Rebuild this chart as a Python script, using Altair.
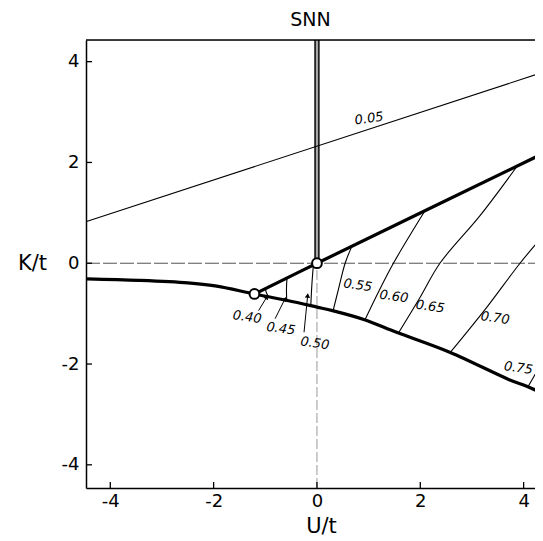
import math
import altair as alt
import pandas as pd

# ---------------- data ----------------
lower_U = [-4.46, -3.45, -2.5, -1.97, -1.21, -0.57, 0.0, 0.30, 0.92, 1.54, 2.58, 3.72, 4.06, 4.38]
lower_K = [-0.31, -0.34, -0.39, -0.45, -0.61, -0.74, -0.87, -0.94, -1.12, -1.37, -1.77, -2.31, -2.44, -2.59]

upper_U = [-1.21, 0.0, 4.38]
upper_K = [-0.61, 0.0, 2.18]

line05_U = [-4.46, 4.38]
line05_K = [0.83, 3.79]

c40_U, c40_K = [-1.00, -0.98, -0.94], [-0.50, -0.58, -0.66]
c45_U, c45_K = [-0.58, -0.59, -0.585], [-0.29, -0.50, -0.74]
c50_U, c50_K = [-0.07, -0.10, -0.12], [-0.04, -0.45, -0.86]
c55_U, c55_K = [0.675, 0.545, 0.42, 0.31], [0.335, 0.0, -0.50, -0.95]
c60_U, c60_K = [2.09, 1.48, 1.20, 0.93], [1.04, 0.0, -0.55, -1.12]
c65_U, c65_K = [3.87, 3.16, 2.38, 2.00, 1.58], [1.92, 0.95, 0.0, -0.67, -1.38]
c70_U, c70_K = [4.38, 3.93, 3.29, 2.58], [0.55, 0.0, -0.87, -1.77]
c75_U, c75_K = [4.38, 4.09], [-1.93, -2.44]

label_text = ["0.05", "0.40", "0.45", "0.50", "0.55", "0.60", "0.65", "0.70", "0.75"]
label_U = [1.01, -1.35, -0.70, -0.04, 0.79, 1.49, 2.19, 3.45, 3.90]
label_K = [2.87, -1.07, -1.30, -1.59, -0.44, -0.66, -0.86, -1.09, -2.08]

arrow_from_U = [-1.13, -0.81, -0.25]
arrow_from_K = [-0.94, -1.10, -1.37]
arrow_to_U = [-0.97, -0.62, -0.18]
arrow_to_K = [-0.67, -0.71, -0.64]

crit_U = [-1.21, 0.0]
crit_K = [-0.61, 0.0]

stripe_U = [0.0, 0.0]
stripe_K = [0.0, 4.43]

tick_vals = [-4, -2, 0, 2, 4]

U_DOMAIN = [-4.47, 4.22]
K_DOMAIN = [-4.46, 4.43]
W, H = 449, 448
FONT = "DejaVu Sans"

# ---------------- tables ----------------
def path(name, us, ks):
    return pd.DataFrame({"U": us, "K": ks, "s": name, "i": list(range(len(us)))})

thick_df = pd.concat([path("lower", lower_U, lower_K), path("upper", upper_U, upper_K)])
thin_df = pd.concat([
    path("0.05", line05_U, line05_K),
    path("0.40", c40_U, c40_K), path("0.45", c45_U, c45_K),
    path("0.50", c50_U, c50_K), path("0.55", c55_U, c55_K),
    path("0.60", c60_U, c60_K), path("0.65", c65_U, c65_K),
    path("0.70", c70_U, c70_K), path("0.75", c75_U, c75_K),
])
labels_df = pd.DataFrame({"U": label_U, "K": label_K, "t": label_text})
labels_df["ang"] = [352] + [8] * (len(label_text) - 1)

arrow_df = pd.concat([
    pd.DataFrame({"U": [fu, tu], "K": [fk, tk], "s": str(n), "i": [0, 1]})
    for n, (fu, fk, tu, tk) in enumerate(zip(arrow_from_U, arrow_from_K, arrow_to_U, arrow_to_K))
])
px_u, px_k = W / (U_DOMAIN[1] - U_DOMAIN[0]), H / (K_DOMAIN[1] - K_DOMAIN[0])
heads = []
for fu, fk, tu, tk in zip(arrow_from_U, arrow_from_K, arrow_to_U, arrow_to_K):
    dx = (tu - fu) * px_u
    dy = (tk - fk) * px_k
    heads.append(math.degrees(math.atan2(dx, dy)) % 360)
head_df = pd.DataFrame({"U": arrow_to_U, "K": arrow_to_K, "ang": heads})

crit_df = pd.DataFrame({"U": crit_U, "K": crit_K})
stripe_df = pd.DataFrame({"U": stripe_U, "K": stripe_K, "i": [0, 1]})
hline_df = pd.DataFrame({"U": U_DOMAIN, "K": [0, 0], "i": [0, 1]})
vline_df = pd.DataFrame({"U": [0, 0], "K": [K_DOMAIN[0], 0], "i": [0, 1]})
xt_df = pd.DataFrame({"U": tick_vals})
yt_df = pd.DataFrame({"K": tick_vals})
frame_df = pd.DataFrame({"z": [0]})

# ---------------- encodings ----------------
LBL = "datum.value < 0 ? '-' + abs(datum.value) : '' + datum.value"
xs = alt.Scale(domain=U_DOMAIN, nice=False, zero=False)
ys = alt.Scale(domain=K_DOMAIN, nice=False, zero=False)
X = alt.X("U:Q", scale=xs, title="U/t",
          axis=alt.Axis(values=tick_vals, grid=False, ticks=False, tickSize=0, labelExpr=LBL,
                        labelPadding=4, labelFontSize=18, labelFont=FONT, labelColor="black",
                        domainColor="black", domainWidth=1.5,
                        titleFontSize=21, titleFont=FONT, titleFontWeight="normal",
                        titleColor="black", titleX=235, titleY=38, titleBaseline="middle",
                        titleAlign="center"))
Y = alt.Y("K:Q", scale=ys, title="K/t",
          axis=alt.Axis(values=tick_vals, grid=False, ticks=False, tickSize=0, labelExpr=LBL,
                        labelPadding=7, labelFontSize=18, labelFont=FONT, labelColor="black",
                        labelBaseline="middle",
                        domainColor="black", domainWidth=1.5,
                        titleFontSize=21, titleFont=FONT, titleFontWeight="normal",
                        titleColor="black", titleAngle=0, titleX=-54, titleY=223,
                        titleAlign="center", titleBaseline="middle"))

SMOOTH = "catmull-rom"
hline = alt.Chart(hline_df).mark_line(color="#555", strokeWidth=1, strokeDash=[14, 3]).encode(
    x=X, y=Y, order="i:O")
vline = alt.Chart(vline_df).mark_line(color="#999", strokeWidth=1, strokeDash=[10, 3]).encode(
    x=X, y=Y, order="i:O")
stripe_outer = alt.Chart(stripe_df).mark_line(color="#222", strokeWidth=5.5, clip=True).encode(x=X, y=Y, order="i:O")
stripe_inner = alt.Chart(stripe_df).mark_line(color="#aaa", strokeWidth=2, clip=True).encode(x=X, y=Y, order="i:O")

thin = alt.Chart(thin_df).mark_line(color="black", strokeWidth=1.1, clip=True,
                                    interpolate=SMOOTH).encode(
    x=X, y=Y, detail="s:N", order="i:O")
thick = alt.Chart(thick_df).mark_line(color="black", strokeWidth=3.2, clip=True,
                                      interpolate=SMOOTH).encode(
    x=X, y=Y, detail="s:N", order="i:O")
arrows = alt.Chart(arrow_df).mark_line(color="black", strokeWidth=1).encode(
    x=X, y=Y, detail="s:N", order="i:O")
heads_l = alt.Chart(head_df).mark_point(shape="triangle-up", filled=True, color="black",
                                        size=28, opacity=1).encode(x=X, y=Y, angle=alt.Angle("ang:Q", scale=None))
crit = alt.Chart(crit_df).mark_point(shape="circle", filled=True, fill="white", stroke="black",
                                     strokeWidth=2, size=95, opacity=1).encode(x=X, y=Y)
labels = alt.Chart(labels_df).mark_text(font=FONT, fontSize=13, fontStyle="italic",
                                        color="black").encode(
    x=X, y=Y, text="t:N", angle=alt.Angle("ang:Q", scale=None))

xticks = alt.Chart(xt_df).mark_rule(color="black", strokeWidth=1.3).encode(
    x=X, y=alt.value(H), y2=alt.value(H - 6))
yticks = alt.Chart(yt_df).mark_rule(color="black", strokeWidth=1.3).encode(
    y=Y, x=alt.value(0), x2=alt.value(6))
topframe = alt.Chart(frame_df).mark_rule(color="black", strokeWidth=1.5).encode(
    x=alt.value(0), x2=alt.value(W), y=alt.value(0))

chart = alt.layer(
    hline, vline, stripe_outer, stripe_inner, thin, thick, arrows, heads_l, crit, labels,
    xticks, yticks, topframe
).properties(
    width=W, height=H,
    title=alt.TitleParams("SNN", fontSize=19, font=FONT, fontWeight="normal", color="black",
                          offset=9, anchor="middle"),
    autosize=alt.AutoSizeParams(type="none"),
    padding={"left": 78, "top": 32, "right": 0, "bottom": 50},
).configure_view(stroke=None).configure(background="white")

chart.save("out.html", embed_options={"renderer": "svg", "actions": False})
